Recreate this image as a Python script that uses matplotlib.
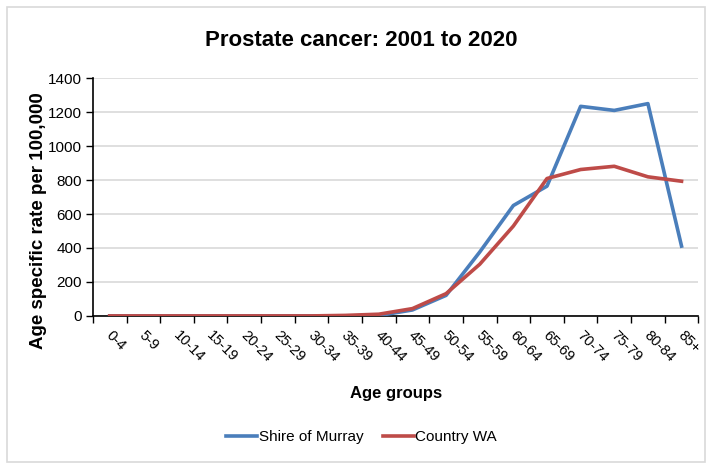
import matplotlib
matplotlib.use('Agg')
import matplotlib.pyplot as plt
from matplotlib.patches import Rectangle

age_groups = ['0-4', '5-9', '10-14', '15-19', '20-24', '25-29', '30-34', '35-39', '40-44',
              '45-49', '50-54', '55-59', '60-64', '65-69', '70-74', '75-79', '80-84', '85+']
murray = [0, 0, 0, 0, 0, 0, 0, 0, 2, 35, 121, 376, 650, 764, 1234, 1210, 1250, 411]
country_wa = [0, 0, 0, 0, 0, 0, 0, 3, 10, 43, 131, 304, 529, 809, 862, 881, 819, 793]

plt.rcParams['font.family'] = ['Liberation Sans', 'DejaVu Sans']

fig = plt.figure(figsize=(7.09, 4.68), dpi=100)
ax = fig.add_axes([0.131, 0.325, 0.854, 0.508])

# light frame round the whole chart, like the excel chart area
fig.patches.append(Rectangle((0.01, 0.012), 0.985, 0.974, transform=fig.transFigure,
                             fill=False, edgecolor='#d9d9d9', linewidth=1.2))

x = [i + 0.5 for i in range(len(age_groups))]
ax.plot(x, murray, color='#4A7EBB', linewidth=2.6, label='Shire of Murray', zorder=3)
ax.plot(x, country_wa, color='#BE4B48', linewidth=2.6, label='Country WA', zorder=4)

ax.set_xlim(0, len(age_groups))
ax.set_ylim(0, 1400)
ax.set_yticks(range(0, 1401, 200))
ax.yaxis.grid(True, color='#d9d9d9', linewidth=1.2)
ax.set_axisbelow(True)

ax.set_xticks(range(len(age_groups) + 1))
ax.set_xticklabels([])
for xi, lab in zip(x, age_groups):
    ax.text(xi + 0.1, -75, lab, rotation=-45, ha='left', va='top', rotation_mode='anchor',
            fontsize=10.5, transform=ax.transData)

ax.tick_params(axis='x', direction='out', length=5, width=1)
ax.tick_params(axis='y', direction='out', length=5, width=1, labelsize=11, pad=3)
for s in ['top', 'right']:
    ax.spines[s].set_visible(False)
ax.spines['left'].set_linewidth(1.2)
ax.spines['bottom'].set_linewidth(1.2)

ax.set_ylabel('Age specific rate per 100,000', fontsize=13.5, fontweight='bold')
ax.yaxis.set_label_coords(-0.076, 0.40)
fig.text(0.558, 0.16, 'Age groups', ha='center', va='center', fontsize=12, fontweight='bold')
fig.text(0.51, 0.913, 'Prostate cancer: 2001 to 2020', ha='center', va='center',
         fontsize=16, fontweight='bold')

fig.legend(loc='center', bbox_to_anchor=(0.51, 0.066), ncol=2, frameon=False,
           fontsize=11, handlelength=2.0, handletextpad=0.1, columnspacing=1.3)

plt.savefig('out.png', dpi=100)
